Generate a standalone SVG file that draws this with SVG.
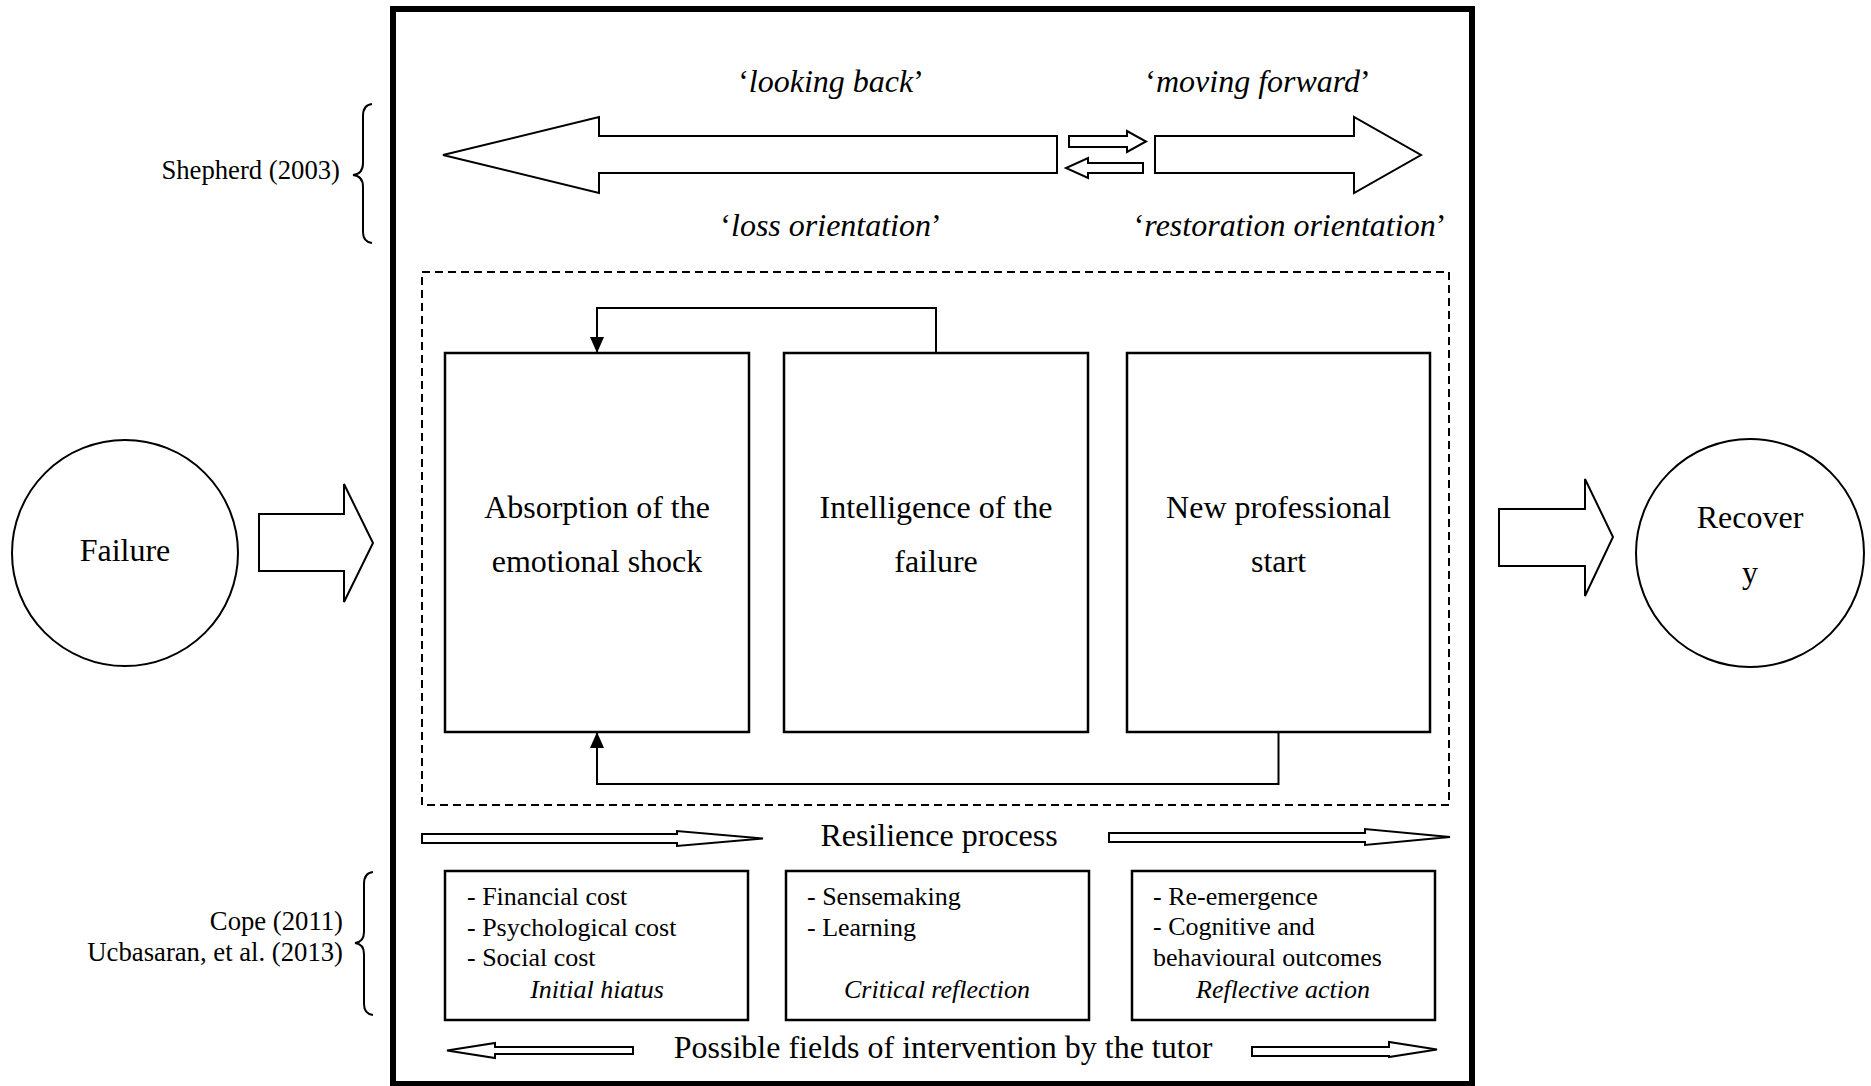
<svg xmlns="http://www.w3.org/2000/svg" width="1871" height="1086" viewBox="0 0 1871 1086">
<style>
text{font-family:"Liberation Serif","Times New Roman",serif;fill:#000}
.t32{font-size:32px}
.t26{font-size:26px}
.ref{font-size:26.7px}
.it{font-style:italic}
.mid{text-anchor:middle}
.end{text-anchor:end}
.sh{fill:#fff;stroke:#000;stroke-width:2}
.box{fill:#fff;stroke:#000;stroke-width:2.5}
.ln{fill:none;stroke:#000;stroke-width:2}
</style>
<defs>
<marker id="ah" viewBox="0 0 16 14" refX="16" refY="7" markerWidth="16" markerHeight="14" markerUnits="userSpaceOnUse" orient="auto">
<path d="M0,0 L16,7 L0,14 Z" fill="#000"/>
</marker>
</defs>
<rect width="1871" height="1086" fill="#fff"/>

<g id="frame">
<rect x="393" y="9" width="1079" height="1075" fill="none" stroke="#000" stroke-width="6"/>
<rect x="422" y="272" width="1027" height="533" fill="none" stroke="#000" stroke-width="2" stroke-dasharray="8 5"/>
</g>

<g id="shepherd">
<text class="ref end" x="340" y="179">Shepherd (2003)</text>
<path class="ln" d="M372,104 Q363,105 363,116 L363,163 Q363,174 353,175 Q363,176 363,187 L363,232 Q363,242 372,243"/>
</g>

<g id="looking-back">
<polygon class="sh" points="1057,136 599,136 599,117 443,155 599,193 599,173 1057,173"/>
<text class="t32 mid" x="831" y="92">‘<tspan class="it">looking back</tspan>’</text>
<text class="t32 mid" x="831" y="236">‘<tspan class="it">loss orientation</tspan>’</text>
</g>

<g id="moving-forward">
<polygon class="sh" points="1155,136 1354,136 1354,117 1421,155 1354,193 1354,173 1155,173"/>
<text class="t32 mid" x="1258" y="92">‘<tspan class="it">moving forward</tspan>’</text>
<text class="t32 mid" x="1290" y="236">‘<tspan class="it">restoration orientation</tspan>’</text>
</g>

<g id="oscillation">
<polygon class="sh" points="1069,136 1127,136 1127,131 1146,141.5 1127,152 1127,147 1069,147"/>
<polygon class="sh" points="1143,163 1088,163 1088,158 1066,168 1088,178 1088,173 1143,173"/>
</g>

<g id="failure">
<circle class="sh" cx="125" cy="553" r="113"/>
<text class="t32 mid" x="125" y="561">Failure</text>
<polygon class="sh" points="259,514 344,514 344,484 373,543 344,602 344,571 259,571"/>
</g>

<g id="recovery">
<polygon class="sh" points="1499,509 1585,509 1585,479 1613,537 1585,596 1585,566 1499,566"/>
<circle class="sh" cx="1750" cy="553" r="114"/>
<text class="t32 mid" x="1750" y="528">Recover</text>
<text class="t32 mid" x="1750" y="583">y</text>
</g>

<g id="absorption">
<rect class="box" x="445" y="353" width="304" height="379"/>
<text class="t32 mid" x="597" y="518">Absorption of the</text>
<text class="t32 mid" x="597" y="572">emotional shock</text>
</g>

<g id="intelligence">
<rect class="box" x="784" y="353" width="304" height="379"/>
<text class="t32 mid" x="936" y="518">Intelligence of the</text>
<text class="t32 mid" x="936" y="572">failure</text>
</g>

<g id="new-start">
<rect class="box" x="1127" y="353" width="303" height="379"/>
<text class="t32 mid" x="1278.5" y="518">New professional</text>
<text class="t32 mid" x="1278.5" y="572">start</text>
</g>

<g id="connectors">
<polyline class="ln" points="936,353 936,308 597,308 597,353" marker-end="url(#ah)"/>
<polyline class="ln" points="1278.5,732 1278.5,784 597,784 597,732" marker-end="url(#ah)"/>
</g>

<g id="resilience">
<polygon class="sh" points="422,834 677,834 677,831 763,838.5 677,846 677,843 422,843"/>
<text class="t32 mid" x="939" y="846">Resilience process</text>
<polygon class="sh" points="1109,833 1365,833 1365,829 1450,837 1365,845 1365,842 1109,842"/>
</g>

<g id="cope">
<text class="ref end" x="343" y="930">Cope (2011)</text>
<text class="ref end" x="343" y="961">Ucbasaran, et al. (2013)</text>
<path class="ln" d="M373,872 Q364,873 364,884 L364,932 Q364,942 355,943 Q364,944 364,954 L364,1004 Q364,1014 373,1015"/>
</g>

<g id="initial-hiatus">
<rect class="box" x="445" y="871" width="303" height="149"/>
<text class="t26" x="467" y="905">- Financial cost</text>
<text class="t26" x="467" y="936">- Psychological cost</text>
<text class="t26" x="467" y="966">- Social cost</text>
<text class="t26 it mid" x="597" y="998">Initial hiatus</text>
</g>

<g id="critical-reflection">
<rect class="box" x="786" y="871" width="303" height="149"/>
<text class="t26" x="807" y="905">- Sensemaking</text>
<text class="t26" x="807" y="936">- Learning</text>
<text class="t26 it mid" x="937" y="998">Critical reflection</text>
</g>

<g id="reflective-action">
<rect class="box" x="1132" y="871" width="303" height="149"/>
<text class="t26" x="1153" y="905">- Re-emergence</text>
<text class="t26" x="1153" y="935">- Cognitive and</text>
<text class="t26" x="1153" y="966">behavioural outcomes</text>
<text class="t26 it mid" x="1283" y="998">Reflective action</text>
</g>

<g id="tutor">
<polygon class="sh" points="633,1047 495,1047 495,1043 447,1050.5 495,1058 495,1054 633,1054"/>
<text class="t32 mid" x="943" y="1058">Possible fields of intervention by the tutor</text>
<polygon class="sh" points="1252,1047 1389,1047 1389,1042 1437,1049.5 1389,1057 1389,1056 1252,1056"/>
</g>
</svg>
